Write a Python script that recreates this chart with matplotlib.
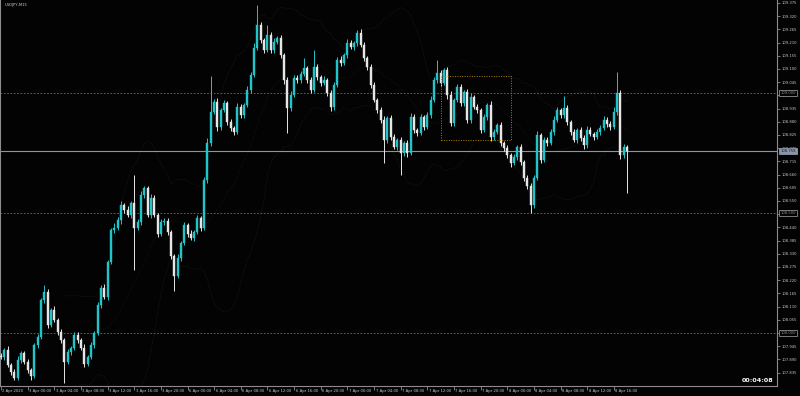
import matplotlib
matplotlib.use("Agg")
import matplotlib.pyplot as plt
from matplotlib.patches import Rectangle
import numpy as np
import pandas as pd

symbol_title = "USDJPY,M15"
timer_text = "00:04:08"

first_open = 107.905
closes = [
    107.900, 107.929, 107.867, 107.838, 107.813, 107.888, 107.917, 107.879, 107.846, 107.821,
    107.950, 107.983, 108.138, 108.171, 108.033, 108.096, 108.054, 108.004, 107.971, 107.879,
    107.921, 107.938, 107.992, 107.971, 107.938, 107.871, 107.900, 107.950, 108.000, 108.117,
    108.188, 108.150, 108.296, 108.429, 108.438, 108.471, 108.533, 108.513, 108.492, 108.542,
    108.438, 108.463, 108.575, 108.604, 108.492, 108.563, 108.492, 108.413, 108.463, 108.467,
    108.421, 108.321, 108.238, 108.313, 108.375, 108.450, 108.413, 108.396, 108.421, 108.479,
    108.438, 108.638, 108.792, 108.921, 108.963, 108.858, 108.929, 108.958, 108.879, 108.854,
    108.838, 108.942, 108.908, 108.950, 109.013, 109.075, 109.188, 109.283, 109.221, 109.179,
    109.242, 109.179, 109.213, 109.229, 109.158, 109.054, 108.938, 108.992, 109.063, 109.054,
    109.079, 109.104, 109.054, 109.013, 109.108, 109.067, 109.042, 109.054, 109.000, 108.942,
    109.033, 109.138, 109.125, 109.158, 109.208, 109.192, 109.208, 109.250, 109.200, 109.146,
    109.108, 109.033, 108.971, 108.929, 108.888, 108.804, 108.896, 108.817, 108.775, 108.804,
    108.750, 108.792, 108.750, 108.900, 108.846, 108.833, 108.900, 108.858, 108.908, 108.971,
    109.054, 109.083, 109.042, 109.096, 108.992, 108.875, 108.971, 109.025, 108.958, 109.004,
    108.888, 108.983, 108.942, 108.929, 108.846, 108.900, 108.950, 108.817, 108.838, 108.867,
    108.792, 108.771, 108.742, 108.708, 108.733, 108.775, 108.713, 108.646, 108.613, 108.533,
    108.646, 108.825, 108.721, 108.804, 108.792, 108.838, 108.888, 108.929, 108.908, 108.938,
    108.879, 108.838, 108.804, 108.846, 108.813, 108.783, 108.846, 108.829, 108.817, 108.838,
    108.854, 108.888, 108.871, 108.858, 108.921, 109.000, 108.742, 108.775, 108.758,
]

# wick lengths in points (0.001)
up_wick = [
    12, 8, 15, 6, 10, 14, 9, 7, 12, 8,
    10, 14, 9, 30, 12, 10, 15, 8, 11, 9,
    13, 7, 10, 12, 8, 14, 9, 11, 7, 12,
    12, 15, 10, 8, 20, 12, 16, 10, 14, 9,
    116, 12, 15, 10, 8, 14, 11, 9, 13, 10,
    12, 8, 10, 14, 9, 12, 10, 15, 8, 11,
    10, 14, 20, 150, 12, 18, 10, 14, 9, 12,
    10, 16, 12, 10, 15, 12, 20, 84, 14, 10,
    42, 12, 16, 10, 14, 9, 12, 15, 10, 13,
    12, 40, 10, 14, 71, 12, 9, 15, 10, 12,
    14, 12, 18, 10, 15, 12, 10, 14, 18, 12,
    10, 12, 14, 9, 12, 15, 10, 13, 11, 9,
    12, 10, 14, 15, 12, 9, 13, 10, 12, 15,
    12, 55, 14, 10, 12, 15, 10, 12, 14, 10,
    12, 15, 10, 14, 9, 12, 10, 15, 12, 10,
    14, 10, 12, 9, 13, 10, 12, 9, 14, 10,
    12, 15, 10, 12, 14, 10, 16, 12, 10, 50,
    12, 10, 14, 9, 12, 10, 15, 11, 10, 12,
    14, 15, 10, 12, 20, 87, 14, 12, 10,
]
dn_wick = [
    10, 12, 8, 14, 10, 9, 12, 10, 14, 15,
    9, 12, 10, 14, 12, 10, 8, 14, 12, 87,
    10, 12, 9, 14, 10, 12, 8, 10, 13, 9,
    12, 10, 14, 9, 12, 10, 15, 12, 10, 14,
    175, 10, 12, 14, 10, 12, 9, 14, 10, 12,
    14, 12, 65, 10, 12, 9, 14, 10, 12, 10,
    12, 10, 14, 12, 10, 15, 12, 10, 14, 12,
    15, 10, 12, 14, 10, 12, 9, 10, 14, 12,
    10, 14, 12, 10, 12, 15, 105, 12, 10, 14,
    12, 10, 14, 15, 10, 12, 14, 10, 12, 15,
    14, 10, 12, 9, 12, 10, 14, 12, 10, 12,
    12, 14, 10, 12, 15, 96, 12, 14, 10, 12,
    92, 12, 15, 10, 12, 14, 10, 12, 10, 12,
    10, 12, 14, 10, 15, 14, 12, 10, 12, 14,
    15, 12, 10, 14, 12, 10, 12, 15, 12, 10,
    12, 14, 12, 15, 10, 12, 14, 12, 15, 33,
    12, 10, 14, 10, 12, 10, 12, 10, 12, 14,
    12, 14, 10, 12, 14, 15, 12, 10, 14, 10,
    12, 10, 14, 12, 10, 12, 15, 14, 175,
]

time_labels = ["2 Apr 2020", "3 Apr 00:00", "3 Apr 04:00", "3 Apr 08:00", "3 Apr 12:00",
               "3 Apr 16:00", "3 Apr 20:00", "6 Apr 00:00", "6 Apr 04:00", "6 Apr 08:00",
               "6 Apr 12:00", "6 Apr 16:00", "6 Apr 20:00", "7 Apr 00:00", "7 Apr 04:00",
               "7 Apr 08:00", "7 Apr 12:00", "7 Apr 16:00", "7 Apr 20:00", "8 Apr 00:00",
               "8 Apr 04:00", "8 Apr 08:00", "8 Apr 12:00", "8 Apr 16:00"]
bars_per_label = 8

price_tick_labels = ["109.375", "109.320", "109.265", "109.210", "109.155", "109.100",
                     "109.045", "108.990", "108.935", "108.880", "108.825", "108.770",
                     "108.715", "108.660", "108.605", "108.550", "108.495", "108.440",
                     "108.385", "108.330", "108.275", "108.220", "108.165", "108.110",
                     "108.055", "108.000", "107.945", "107.890", "107.835"]

level_prices = [109.000, 108.500, 108.000]
bid_price = 108.758
rect_bars = (132, 153)
rect_prices = (108.804, 109.071)

BG = "#030303"
BULL = "#22c4c8"
BEAR = "#e6e6e6"
GRID = "#6e6e6e"
FS = 2.7

n = len(closes)
x = np.arange(n)
c = np.array(closes)
o = np.concatenate([[first_open], c[:-1]])
hi = np.maximum(o, c) + np.array(up_wick) / 1000.0
lo = np.minimum(o, c) - np.array(dn_wick) / 1000.0

fig = plt.figure(figsize=(8.0, 3.96), dpi=100, facecolor=BG)
W, H = 800.0, 396.0
ax = fig.add_axes([0.0, 10 / H, 777 / W, 386 / H])
ax.set_facecolor(BG)
ax.set_xlim(-0.3, 233.0)
ax.set_ylim(107.779, 109.3875)

# faint indicator bands
s = pd.Series(c)
mid = s.rolling(20).mean()
sd = s.rolling(20).std(ddof=0)
ax.plot(x, mid + 2 * sd, color="#262626", lw=0.5, ls=(0, (1, 2)), zorder=1)
ax.plot(x, mid - 2 * sd, color="#262626", lw=0.5, ls=(0, (1, 2)), zorder=1)
ax.plot(x, mid, color="#1e1e1e", lw=0.5, ls=(0, (1, 2)), zorder=1)

# level lines
for lp in level_prices:
    ax.axhline(lp, color=GRID, lw=0.6, ls=(0, (2, 2)), zorder=1)
ax.axhline(bid_price, color="#8a96a8", lw=0.8, zorder=1)

# candles
cols = [BULL if cc >= oo else BEAR for oo, cc in zip(o, c)]
ax.vlines(x, lo, hi, colors=cols, lw=0.7, zorder=2)
bottoms = np.minimum(o, c)
heights = np.maximum(np.abs(c - o), 0.002)
ax.bar(x, heights, bottom=bottoms, width=0.6, color=cols, edgecolor=cols, lw=0.3, zorder=3)

# dotted rectangle
ax.add_patch(Rectangle((rect_bars[0], rect_prices[0]), rect_bars[1] - rect_bars[0],
                       rect_prices[1] - rect_prices[0], fill=False, ec="#b08000",
                       lw=0.7, ls=(0, (1, 1.5)), zorder=4))

# spines
ax.spines["top"].set_visible(False)
for sp in ["left", "right", "bottom"]:
    ax.spines[sp].set_color("#8c8c8c")
    ax.spines[sp].set_linewidth(0.8)

# x ticks
xt = [i * bars_per_label for i in range(len(time_labels))]
ax.set_xticks(xt)
ax.set_xticklabels([])
ax.tick_params(axis="x", colors="#8c8c8c", length=3, width=0.6, direction="out")
tx = ax.get_xaxis_transform()
for pos, lab in zip(xt, time_labels):
    ax.text(pos + 0.45, -0.012, lab, transform=tx, ha="left", va="center",
            fontsize=FS, color="#c8c8c8", clip_on=False)

# y ticks on right (labels hidden behind the level boxes are left blank)
yt = [float(v) for v in price_tick_labels]
boxed = level_prices + [bid_price]
shown = ["" if any(abs(v - b) < 0.009 for b in boxed) else lab
         for v, lab in zip(yt, price_tick_labels)]
ax.yaxis.tick_right()
ax.set_yticks(yt)
ax.set_yticklabels(shown)
ax.tick_params(axis="y", colors="#8c8c8c", length=2, width=0.6, direction="out",
               labelsize=FS, labelcolor="#c8c8c8", pad=1.5)

ty = ax.get_yaxis_transform()
def box_label(price, text, face, edge, tcol):
    ax.text(1.0045, price, text, transform=ty, ha="left", va="center", fontsize=FS,
            color=tcol, clip_on=False, zorder=10,
            bbox=dict(boxstyle="square,pad=0.35", fc=face, ec=edge, lw=0.6))

for lp in level_prices:
    box_label(lp, f"{lp:.3f}", BG, "#8c8c8c", "#8c8c8c")
box_label(bid_price, f"{bid_price:.3f}", "#8a96a8", "#8a96a8", "#1a1a1a")

# title and timer
fig.text(5 / W, 1 - 5 / H, symbol_title, ha="left", va="center", fontsize=FS, color="#d0d0d0")
fig.text(773 / W, 1 - 380 / H, timer_text, ha="right", va="center", fontsize=4.6,
         color="#ffffff", fontweight="bold")

fig.savefig("out.png", dpi=100, facecolor=BG)
